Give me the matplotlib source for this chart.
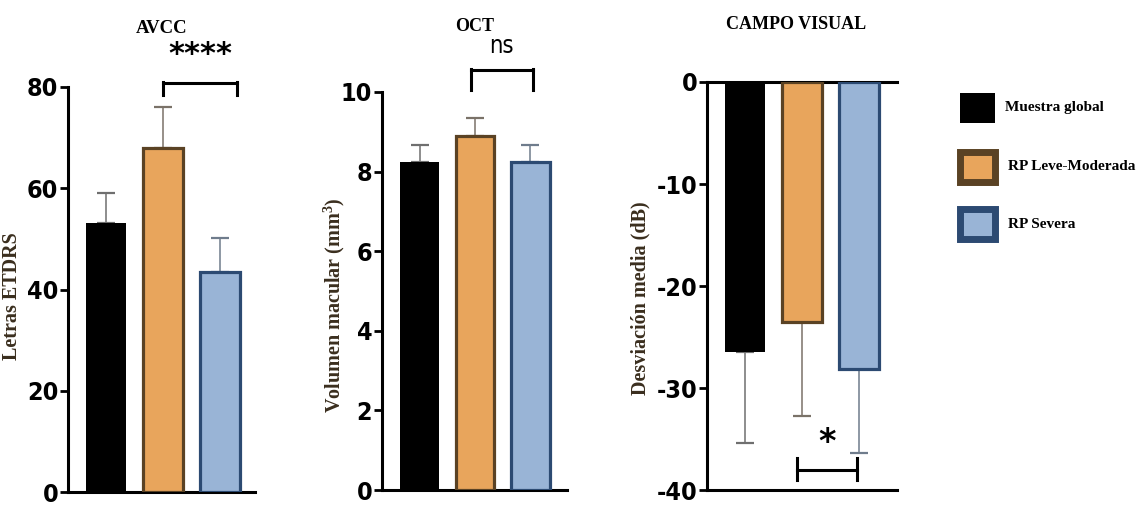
import matplotlib
matplotlib.use("Agg")
import matplotlib.pyplot as plt
from matplotlib.patches import Rectangle
from matplotlib import font_manager

# Дані
groups = ["Muestra global", "RP Leve-Moderada", "RP Severa"]
fill_colors = ["#000000", "#e8a55c", "#99b4d6"]
edge_colors = ["#000000", "#5a4224", "#2c4a72"]
err_colors = ["#6f6f6f", "#7a7268", "#6f7c8c"]

avcc_mean = [53.1, 67.9, 43.5]
avcc_sd = [5.9, 8.1, 6.7]

oct_mean = [8.25, 8.9, 8.25]
oct_sd = [0.42, 0.45, 0.42]

cv_mean = [-26.5, -23.5, -28.1]
cv_sd = [8.9, 9.2, 8.3]

titles = ["AVCC", "OCT", "CAMPO VISUAL"]
ylabels = ["Letras ETDRS", "Volumen macular (mm$^3$)", "Desviación media (dB)"]
sig_labels = ["****", "ns", "*"]

plt.rcParams["axes.unicode_minus"] = False
plt.rcParams["mathtext.fontset"] = "custom"
plt.rcParams["mathtext.rm"] = "Liberation Serif:bold"
plt.rcParams["mathtext.it"] = "Liberation Serif:bold"

names = {f.name for f in font_manager.fontManager.ttflist}
narrow = [n for n in ["Liberation Sans Narrow", "DejaVu Sans Condensed"] if n in names]
tick_font = narrow + ["DejaVu Sans"]
serif_font = ["Liberation Serif", "DejaVu Serif"]
label_color = "#3a2e1e"

W, H = 1145, 505
fig = plt.figure(figsize=(W / 100, H / 100), dpi=100)


def px_axes(left, right, top, bottom):
    return fig.add_axes([left / W, (H - bottom) / H, (right - left) / W, (bottom - top) / H])


def draw_panel(ax, means, sds, negative=False):
    x = range(len(means))
    for i in x:
        lw = 0 if i == 0 else 2.3
        ax.bar(i, means[i], width=0.7, color=fill_colors[i], edgecolor=edge_colors[i],
               linewidth=lw, zorder=3)
        yerr = [[sds[i]], [0]] if negative else [[0], [sds[i]]]
        ax.errorbar(i, means[i], yerr=yerr, fmt="none", ecolor=err_colors[i],
                    elinewidth=1.1, capsize=6.5, capthick=1.6, zorder=2)
    for lab in ax.get_yticklabels():
        lab.set_family(tick_font)
        lab.set_fontweight("bold")
        lab.set_fontstretch("condensed")
        lab.set_fontsize(18)
    ax.tick_params(axis="y", length=6, width=2, pad=1)
    ax.tick_params(axis="x", length=0, labelbottom=False)
    for s in ["left", "bottom", "top"]:
        ax.spines[s].set_linewidth(2.2)
    ax.spines["right"].set_visible(False)
    if not negative:
        ax.spines["top"].set_visible(False)


def bracket(ax, x0, x1, y, y_lo, y_hi):
    ax.plot([x0, x1], [y, y], color="black", lw=2.2, clip_on=False)
    ax.plot([x0, x0], [y_lo, y_hi], color="black", lw=2.2, clip_on=False)
    ax.plot([x1, x1], [y_lo, y_hi], color="black", lw=2.2, clip_on=False)


def ylab(ax, text, cx, cy):
    ax.set_ylabel(text, family=serif_font, fontweight="bold", fontsize=14.5,
                  color=label_color)
    ax.yaxis.set_label_coords(cx, cy)


# Панель 1: AVCC
ax1 = px_axes(68, 255, 87, 492)
ax1.set_ylim(0, 80)
ax1.set_xlim(-0.67, 2.61)
ax1.set_yticks([0, 20, 40, 60, 80])
draw_panel(ax1, avcc_mean, avcc_sd)
bracket(ax1, 0.99, 2.3, 80.8, 78.4, 81.0)
ax1.text(1.65, 86.5, sig_labels[0], ha="center", va="center", fontsize=22,
         fontweight="bold", family=tick_font)
ax1.text(0.5, 1.145, titles[0], transform=ax1.transAxes, ha="center", va="center",
         fontsize=13.5, fontweight="bold", family=serif_font)
ylab(ax1, ylabels[0], -0.245, 0.484)

# Панель 2: OCT
ax2 = px_axes(382, 567, 92, 490)
ax2.set_ylim(0, 10)
ax2.set_xlim(-0.68, 2.66)
ax2.set_yticks([0, 2, 4, 6, 8, 10])
draw_panel(ax2, oct_mean, oct_sd)
bracket(ax2, 0.92, 2.04, 10.55, 10.05, 10.58)
ax2.text(1.48, 11.15, sig_labels[1], ha="center", va="center", fontsize=17,
         family=tick_font, fontstretch="condensed")
ax2.text(0.5, 1.165, titles[1], transform=ax2.transAxes, ha="center", va="center",
         fontsize=13, fontweight="bold", family=serif_font)
ylab(ax2, ylabels[1], -0.19, 0.465)

# Панель 3: Campo visual
ax3 = px_axes(707, 897, 82, 490)
ax3.set_ylim(-40, 0)
ax3.set_xlim(-0.675, 2.675)
ax3.set_yticks([-40, -30, -20, -10, 0])
draw_panel(ax3, cv_mean, cv_sd, negative=True)
bracket(ax3, 0.91, 1.97, -38.0, -36.9, -39.0)
ax3.text(1.44, -35.3, sig_labels[2], ha="center", va="center", fontsize=24,
         fontweight="bold", family=tick_font)
ax3.text(0.47, 1.14, titles[2], transform=ax3.transAxes, ha="center", va="center",
         fontsize=13, fontweight="bold", family=serif_font)
ylab(ax3, ylabels[2], -0.30, 0.469)

# Легенда
leg_y = [108, 167, 224]
leg_tx = [1005, 1008, 1008]
for i, g in enumerate(groups):
    cy = leg_y[i]
    r = Rectangle((960 / W, (H - cy - 15) / H), 35 / W, 30 / H, transform=fig.transFigure,
                  facecolor=fill_colors[i], edgecolor=edge_colors[i],
                  linewidth=0 if i == 0 else 5)
    fig.add_artist(r)
    fig.text(leg_tx[i] / W, (H - cy) / H, g, ha="left", va="center", fontsize=11,
             fontweight="bold", family=serif_font)

fig.savefig("out.png", dpi=100, facecolor="white")
